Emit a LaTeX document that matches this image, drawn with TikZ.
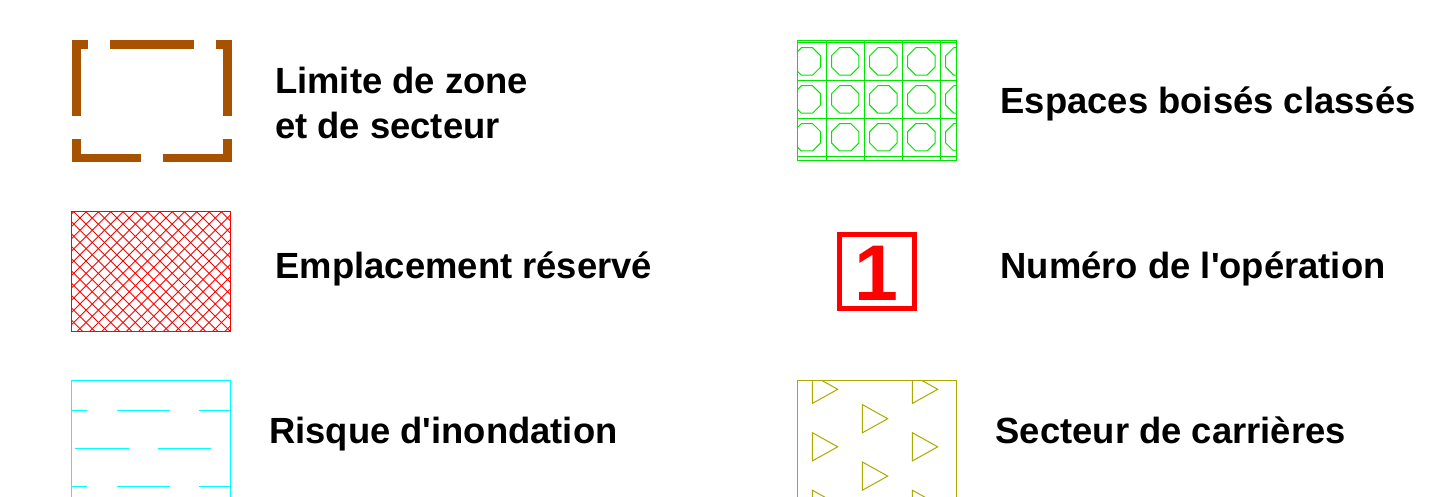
\documentclass[tikz,border=0pt]{standalone}
\usepackage{fontspec}
\setmainfont{Liberation Sans}[Ligatures=TeXOff]
\definecolor{brownc}{RGB}{166,82,0}
\definecolor{redc}{RGB}{255,0,0}
\definecolor{cyanc}{RGB}{0,255,255}
\definecolor{greenc}{RGB}{0,230,0}
\definecolor{olivec}{RGB}{170,170,0}
\begin{document}
\begin{tikzpicture}[x=1pt,y=-1pt,
  lbl/.style={anchor=base west,inner sep=0pt,font=\fontsize{36.4}{44}\selectfont\bfseries},
  brownbar/.style={fill=brownc,draw=none},
  hatchline/.style={draw=redc,line width=0.9pt},
  cyanline/.style={draw=cyanc,line width=1pt},
  greenline/.style={draw=greenc,line width=1pt},
  oliveline/.style={draw=olivec,line width=1pt}]
\useasboundingbox (0,0) rectangle (1430,496);

% ---- brown zone limit frame
\fill[brownbar] (72,40) rectangle (81,115.7);
\fill[brownbar] (72,40) rectangle (87.7,49);
\fill[brownbar] (110,40) rectangle (193.7,49);
\fill[brownbar] (215.7,40) rectangle (231.7,49);
\fill[brownbar] (222.7,40) rectangle (231.7,115.7);
\fill[brownbar] (72,139) rectangle (81,162.3);
\fill[brownbar] (72,154) rectangle (140.7,162.3);
\fill[brownbar] (162.7,154) rectangle (231.7,162.3);
\fill[brownbar] (222.7,139) rectangle (231.7,162.3);

% ---- red cross hatch
\begin{scope}
  \clip (71.7,211) rectangle (230.7,331.7);
  \foreach \k in {0,...,28} {
    \draw[hatchline] ({-60+\k*12.3},201) -- ({-60+\k*12.3+150},351);
    \draw[hatchline] ({60+\k*12.3},201) -- ({60+\k*12.3-150},351);
  }
\end{scope}
\draw[hatchline] (71.7,211) rectangle (230.7,331.7);

% ---- cyan flood risk
\draw[cyanline] (71.7,500) -- (71.7,380.3) -- (230.7,380.3) -- (230.7,500);
\begin{scope}
  \clip (71.7,380.3) rectangle (230.7,500);
  \foreach \y in {410.3,486} {
    \foreach \s in {34,116.7,199.3} {
      \draw[cyanline] (\s,\y) -- ({\s+53.3},\y);
    }
  }
  \foreach \s in {75,157.7} {
    \draw[cyanline] (\s,448.3) -- ({\s+53.7},448.3);
  }
\end{scope}

% ---- green wooded spaces
\begin{scope}
  \clip (797.3,40) rectangle (956.7,160.7);
  \foreach \x in {826,864.2,902.4,940.3} {
    \draw[greenline] (\x,40) -- (\x,160.7);
  }
  \foreach \y in {42.3,80.5,118.4,156.2} {
    \draw[greenline] (797.3,\y) -- (956.7,\y);
  }
  \foreach \cx in {807,845.2,883.4,921.4,959.4} {
    \foreach \cy in {61.4,99.4,137.3} {
      \draw[greenline,shift={(\cx,\cy)}] (22.5:14.8) -- (67.5:14.8) -- (112.5:14.8) -- (157.5:14.8)
        -- (202.5:14.8) -- (247.5:14.8) -- (292.5:14.8) -- (337.5:14.8) -- cycle;
    }
  }
\end{scope}
\draw[greenline] (797.3,40) rectangle (956.7,160.7);

% ---- red operation number
\draw[draw=redc,line width=5pt] (839.2,234.2) rectangle (914.8,308.2);
\node[anchor=base,inner sep=0pt,text=redc,font=\fontsize{79}{79}\selectfont\bfseries] (num) at (876.5,300) {1};

% ---- olive quarry sector
\draw[oliveline] (797.3,500) -- (797.3,380.3) -- (956,380.3) -- (956,500);
\begin{scope}
  \clip (797.3,380.3) rectangle (956,500);
  \foreach \x/\y in {812.3/389.3,812.3/446.8,812.3/504.3,
                     912.3/389.3,912.3/446.8,912.3/504.3,
                     862.3/418.7,862.3/476.1} {
    \draw[oliveline,line join=miter] (\x,{\y-14.15}) -- ({\x+25.4},\y) -- (\x,{\y+14.15}) -- cycle;
  }
\end{scope}

% ---- labels
\node[lbl] (lim1) at (275,93.3) {Limite de zone};
\node[lbl] (lim2) at (275,138.3) {et de secteur};
\node[lbl] (empl) at (275.5,278.3) {Emplacement réservé};
\node[lbl] (risq) at (269,443.3) {Risque d'inondation};
\node[lbl] (esp) at (1000.5,113.3) {Espaces boisés classés};
\node[lbl] (numop) at (1000.5,278.3) {Numéro de l'opération};
\node[lbl] (carr) at (995.5,443.3) {Secteur de carrières};
\end{tikzpicture}
\end{document}
